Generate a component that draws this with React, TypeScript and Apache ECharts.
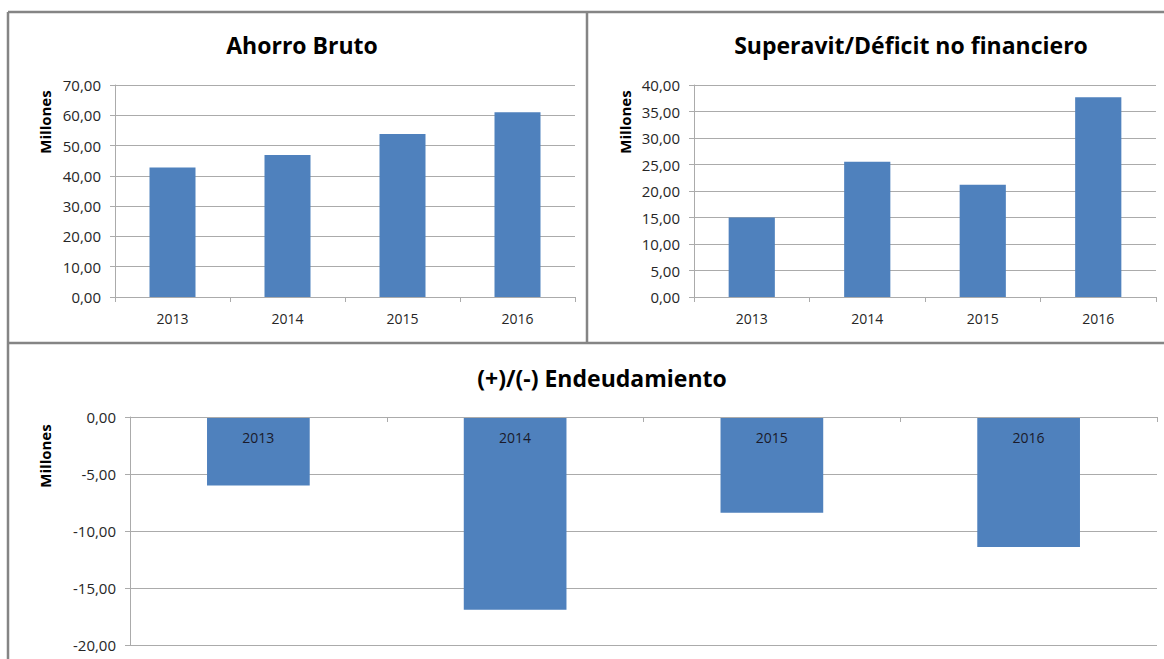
import React, { useEffect, useRef } from "react";
import * as echarts from "echarts";

const years = ["2013", "2014", "2015", "2016"];
const ahorroBruto = [42.8, 46.9, 53.8, 61.0];
const superavit = [15.0, 25.5, 21.2, 37.7];
const endeudamiento = [-6.0, -16.9, -8.4, -11.4];

const titles = ["Ahorro Bruto", "Superavit/Déficit no financiero", "(+)/(-) Endeudamiento"];
const axisName = "Millones";

const FONT = "'Open Sans', sans-serif";
const GRID_COLOR = "#ababab";
const BAR_COLOR = "#4F81BD";
const BORDER = "#858585";
const LABEL_COLOR = "#262626";

const fmt = (v: number) => v.toFixed(2).replace(".", ",");

export default function App() {
  const ref = useRef<HTMLDivElement>(null);
  useEffect(() => {
    if (!ref.current) return;
    const chart = echarts.init(ref.current, undefined, { renderer: "svg" });

    const yAxisBase = (min: number, max: number, interval: number, gridIndex: number) => ({
      type: "value",
      gridIndex,
      min,
      max,
      interval,
      axisLine: { show: true, lineStyle: { color: GRID_COLOR, width: 1 } },
      axisTick: { show: true, length: 5, lineStyle: { color: GRID_COLOR } },
      splitLine: { show: true, lineStyle: { color: GRID_COLOR, width: 1 } },
      axisLabel: {
        formatter: (v: number) => fmt(v),
        color: LABEL_COLOR,
        fontFamily: FONT,
        fontSize: 15,
        margin: 14,
      },
    });

    const xAxisTop = (gridIndex: number) => ({
      type: "category",
      gridIndex,
      data: years,
      axisLine: { show: true, lineStyle: { color: GRID_COLOR, width: 1 } },
      axisTick: { show: true, length: 5, alignWithLabel: false, lineStyle: { color: GRID_COLOR } },
      axisLabel: { color: LABEL_COLOR, fontFamily: FONT, fontSize: 14, margin: 14 },
    });

    const barSeries = (data: number[], idx: number) => ({
      type: "bar",
      xAxisIndex: idx,
      yAxisIndex: idx,
      data,
      barWidth: "40%",
      itemStyle: { color: BAR_COLOR },
    });

    const millones = (x: number, y: number) => ({
      type: "text",
      x,
      y,
      rotation: Math.PI / 2,
      style: {
        text: axisName,
        fontFamily: FONT,
        fontWeight: "bold",
        fontSize: 15,
        fill: "#000",
        textAlign: "center",
        textVerticalAlign: "middle",
      },
    });

    const title = (text: string, x: number, y: number) => ({
      type: "text",
      x,
      y,
      style: {
        text,
        fontFamily: FONT,
        fontWeight: "bold",
        fontSize: 23,
        fill: "#000",
        textAlign: "center",
        textVerticalAlign: "middle",
      },
    });

    const line = (x1: number, y1: number, x2: number, y2: number) => ({
      type: "line",
      shape: { x1, y1, x2, y2 },
      style: { stroke: BORDER, lineWidth: 2.5 },
    });

    chart.setOption({
      animation: false,
      backgroundColor: "#ffffff",
      grid: [
        { left: 115, top: 85, width: 460, height: 212 },
        { left: 694, top: 85, width: 462, height: 212 },
        { left: 130, top: 417, width: 1027, height: 228 },
      ],
      xAxis: [
        xAxisTop(0),
        xAxisTop(1),
        {
          type: "category",
          gridIndex: 2,
          data: years,
          position: "top",
          z: 5,
          axisLine: { show: true, onZero: false, lineStyle: { color: GRID_COLOR, width: 1 } },
          axisTick: { show: true, inside: true, length: 5, alignWithLabel: false, lineStyle: { color: GRID_COLOR } },
          axisLabel: { inside: true, color: "#1a1a2a", fontFamily: FONT, fontSize: 14, margin: 13 },
        },
      ],
      yAxis: [
        yAxisBase(0, 70, 10, 0),
        yAxisBase(0, 40, 5, 1),
        yAxisBase(-20, 0, 5, 2),
      ],
      series: [barSeries(ahorroBruto, 0), barSeries(superavit, 1), barSeries(endeudamiento, 2)],
      graphic: [
        line(8, 12, 1164, 12),
        line(8, 12, 8, 659),
        line(587, 12, 587, 343),
        line(8, 343, 1164, 343),
        title(titles[0], 302, 45),
        title(titles[1], 911, 45),
        title(titles[2], 602, 378),
        millones(45, 122),
        millones(625, 122),
        millones(45, 456),
      ],
    });

    return () => chart.dispose();
  }, []);

  return (
    <div
      ref={ref}
      style={{ position: "absolute", left: 0, top: 0, width: 1164, height: 659, background: "#fff" }}
    />
  );
}
